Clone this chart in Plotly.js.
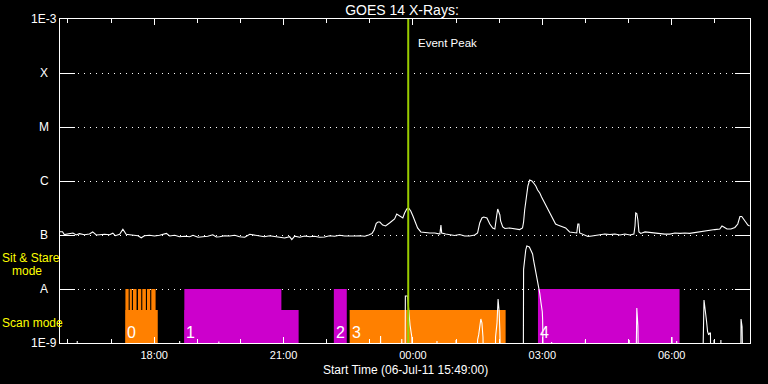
<!DOCTYPE html>
<html><head><meta charset="utf-8">
<script src="https://cdn.plot.ly/plotly-3.0.1.min.js"></script>
<style>html,body{margin:0;padding:0;background:#000;}#chart{width:768px;height:384px;}</style>
</head><body><div id="chart"></div>
<script>
// ---- Data (times are minutes after start 06-Jul-11 15:49:00) ----
const startLabel = 'Start Time (06-Jul-11 15:49:00)';
const titleText = 'GOES 14 X-Rays:';
const spanMinutes = 960;

// GOES long-channel flux (W/m^2)
const mainMin = [
 0, 3.5, 6, 9, 18, 22.5, 27, 34, 41, 45.5,
 50.5, 55, 62, 69, 73.5, 77, 83, 87.5, 90, 92,
 97, 101.5, 108.5, 113, 117.5, 124.5, 131.5, 138.5, 148, 152.5,
 159.5, 166.5, 173.5, 180.5, 185, 192, 199, 205.5, 212.5, 217.5,
 222, 229, 236, 243, 250, 257, 264, 271, 277.5, 284.5,
 291.5, 298.5, 305.5, 312.5, 319.5, 322.5, 326.5, 333.5, 340.5, 347.5,
 354, 361, 368, 375, 382, 389, 396, 403, 410, 417,
 424, 429.5, 434, 437, 440, 442.5, 445, 449, 453, 458.5,
 463, 465.5, 468.5, 472.5, 477, 479.5, 482.5, 485, 488, 491,
 493.5, 497.5, 502, 507.5, 514.5, 521.5, 528.5, 530, 531, 536.5,
 542, 549, 556, 563, 570, 577, 581, 584, 587, 589.5,
 594, 598, 602, 605, 607.5, 609, 612, 613, 616, 619,
 625.5, 632.5, 639.5, 643.5, 645, 646.5, 648, 651, 653.5, 656.5,
 659, 662, 664.5, 667.5, 670, 673, 676, 678.5, 681.5, 685.5,
 689.5, 692.5, 698, 703.5, 709, 715, 719, 720.5, 722, 723,
 729, 734.5, 740, 745.5, 751, 758, 765, 772, 779, 786,
 793, 798.5, 800, 801, 802.5, 804, 805.5, 808, 814, 821,
 828, 834.5, 841.5, 848.5, 855.5, 862.5, 869.5, 876, 883, 890,
 897, 904, 911, 918, 921, 923.5, 928, 933.5, 939, 943,
 946, 948.5, 951.5, 954, 957, 959.5
];
const mainFlux = [
 1.15e-7, 1.15e-7, 1.02e-7, 1.03e-7, 1.09e-7, 1.0e-7, 1.06e-7, 1.01e-7, 1.04e-7, 1.14e-7,
 1.0e-7, 1.01e-7, 1.03e-7, 1.01e-7, 1.08e-7, 9.7e-8, 1.03e-7, 1.28e-7, 1.12e-7, 1.03e-7,
 1.01e-7, 9.9e-8, 9.7e-8, 8.9e-8, 9.7e-8, 9.9e-8, 9.6e-8, 9.9e-8, 1.07e-7, 9.6e-8,
 9.9e-8, 9.3e-8, 9.5e-8, 9.3e-8, 9.9e-8, 9.1e-8, 9.3e-8, 9.5e-8, 1.01e-7, 9.2e-8,
 9.3e-8, 9.7e-8, 9.6e-8, 9.9e-8, 9.3e-8, 9.1e-8, 1.03e-7, 9.9e-8, 9.7e-8, 9.3e-8,
 9.7e-8, 9.3e-8, 9.1e-8, 8.8e-8, 9.3e-8, 8.2e-8, 9.5e-8, 9.1e-8, 9.6e-8, 9.3e-8,
 9.5e-8, 9.1e-8, 9.2e-8, 9.7e-8, 9.5e-8, 9.9e-8, 9.6e-8, 9.5e-8, 9.6e-8, 9.7e-8,
 9.5e-8, 1.0e-7, 1.06e-7, 1.24e-7, 1.65e-7, 1.74e-7, 1.74e-7, 1.53e-7, 1.47e-7, 1.67e-7,
 1.82e-7, 1.98e-7, 2.45e-7, 2.25e-7, 2.07e-7, 2.56e-7, 3.03e-7, 3.16e-7, 2.78e-7, 2.25e-7,
 1.82e-7, 1.35e-7, 1.14e-7, 1.11e-7, 1.09e-7, 1.09e-7, 1.04e-7, 1.53e-7, 1.09e-7, 1.04e-7,
 1.02e-7, 9.8e-8, 1.02e-7, 9.6e-8, 9.6e-8, 1.0e-7, 1.09e-7, 1.67e-7, 2.07e-7, 2.15e-7,
 2.07e-7, 1.6e-7, 1.35e-7, 1.29e-7, 2.25e-7, 3.03e-7, 2.35e-7, 1.82e-7, 1.41e-7, 1.32e-7,
 1.35e-7, 1.32e-7, 1.26e-7, 1.35e-7, 1.74e-7, 2.9e-7, 4.45e-7, 8.09e-7, 1.04e-6, 1.0e-6,
 9.18e-7, 8.09e-7, 6.81e-7, 5.99e-7, 5.05e-7, 4.26e-7, 3.59e-7, 3.03e-7, 2.56e-7, 1.98e-7,
 1.6e-7, 1.53e-7, 1.44e-7, 1.35e-7, 1.14e-7, 1.09e-7, 1.09e-7, 1.6e-7, 1.6e-7, 1.09e-7,
 1.0e-7, 9.4e-8, 9.6e-8, 9.8e-8, 1.02e-7, 1.04e-7, 1.02e-7, 1.04e-7, 1.0e-7, 1.04e-7,
 1.0e-7, 1.04e-7, 1.47e-7, 2.56e-7, 2.5e-7, 1.9e-7, 1.14e-7, 1.07e-7, 1.14e-7, 1.11e-7,
 1.09e-7, 1.07e-7, 1.04e-7, 1.04e-7, 1.09e-7, 1.07e-7, 1.09e-7, 1.07e-7, 1.11e-7, 1.14e-7,
 1.16e-7, 1.24e-7, 1.26e-7, 1.29e-7, 1.47e-7, 1.41e-7, 1.29e-7, 1.29e-7, 1.38e-7, 1.6e-7,
 2.2e-7, 2.2e-7, 1.98e-7, 1.74e-7, 1.53e-7, 1.47e-7
];

// lower white trace (mostly below 1E-9)
const lowMin = [
 0, 23, 24, 25, 165, 166.5, 168, 220, 221, 222,
 445, 446, 447, 474.5, 475.5, 476.5, 480, 480.5, 483.5, 487,
 489.5, 491, 523.5, 524.5, 525.5, 550, 551, 552, 580, 581,
 582.5, 584, 585.5, 587, 588.5, 590, 605.5, 606, 608, 609.5,
 611, 612, 613.5, 644.5, 645, 648, 649.5, 653, 655, 657.5,
 659, 662, 664.5, 666, 667.5, 669, 670, 671, 671.5, 672,
 673, 683, 684, 685, 730, 731, 732, 791, 792, 793,
 801, 801.5, 802.5, 804, 805.5, 850.5, 851.5, 852.5, 857, 858,
 859, 893.5, 896, 897, 899, 899.5, 901, 902.5, 904, 905,
 905.5, 909, 910, 911, 918.5, 919.5, 920.5, 947, 947.5, 949,
 950.5, 960
];
const lowFlux = [
 1e-10, 1e-10, 1.09e-9, 1e-10, 1e-10, 1.09e-9, 1e-10, 1e-10, 1.06e-9, 1e-10,
 1e-10, 1.35e-9, 1e-10, 1e-10, 1.19e-9, 1e-10, 1e-10, 7.4e-9, 7.4e-9, 2.15e-9,
 1.29e-9, 1e-10, 1e-10, 1.09e-9, 1e-10, 1e-10, 1.14e-9, 1e-10, 1e-10, 1.14e-9,
 1.41e-9, 2.15e-9, 2.78e-9, 2.35e-9, 1.29e-9, 1e-10, 1e-10, 1.29e-9, 2.35e-9, 6.5e-9,
 3.8e-9, 1.62e-9, 1e-10, 1e-10, 2.31e-8, 5.28e-8, 6.26e-8, 6.0e-8, 5.28e-8, 4.45e-8,
 3.34e-8, 2.09e-8, 1.47e-8, 1.22e-8, 8.33e-9, 5.83e-9, 4.7e-9, 3.8e-9, 2.67e-9, 1.74e-9,
 1e-10, 1e-10, 1.04e-9, 1e-10, 1e-10, 1.14e-9, 1e-10, 1e-10, 1.14e-9, 1e-10,
 1e-10, 2.56e-9, 4.45e-9, 2.09e-9, 1e-10, 1e-10, 1.29e-9, 1e-10, 1e-10, 1.09e-9,
 1e-10, 1e-10, 6.26e-9, 4.84e-9, 3.3e-9, 2.56e-9, 1.62e-9, 1.41e-9, 1.53e-9, 1.53e-9,
 1e-10, 1e-10, 1.14e-9, 1e-10, 1e-10, 1.14e-9, 1e-10, 1e-10, 2.78e-9, 2.0e-9,
 1e-10, 1e-10
];

// observing-mode segments
const segBlock = [0, 0, 0, 0, 0, 0, 0, 0, 1, 1, 2, 3, 4];
const segMode  = ['scan','sit','sit','sit','sit','sit','sit','sit','sit','scan','sit','scan','sit'];
const segStart = [91, 91, 97, 101.5, 108.5, 114.5, 121, 127, 173, 173, 381, 403, 665];
const segEnd   = [136, 95.5, 100, 106.5, 113, 119.5, 125.5, 133, 308, 332, 399, 620, 862];
const blockLabels = ['0', '1', '2', '3', '4'];
const blockStart  = [91, 173, 381, 403, 665];
const blockColors = ['#ff8000', '#cc00cc', '#cc00cc', '#ff8000', '#cc00cc'];
const modeLevel = {sit: 1e-8, scan: 4.1e-9};

const eventPeakMin = 484.5;

// GOES class levels
const levelVals = [1e-9, 1e-8, 1e-7, 1e-6, 1e-5, 1e-4, 1e-3];
const levelText = ['1E-9', 'A', 'B', 'C', 'M', 'X', '1E-3'];
const modeLabelText = ['Sit & Stare', 'mode', 'Scan mode'];

// ---- Build ----
const START = Date.UTC(2011, 6, 6, 15, 49, 0);
const toT = m => START + m * 60000;
const yMin = levelVals[0], yMax = levelVals[levelVals.length - 1];
const FONT = '"Liberation Sans", Arial, sans-serif';

const traces = [];
segStart.forEach((s, i) => {
  const e = segEnd[i], top = modeLevel[segMode[i]];
  traces.push({
    type: 'scatter', mode: 'lines', fill: 'toself',
    x: [toT(s), toT(s), toT(e), toT(e), toT(s)],
    y: [yMin, top, top, yMin, yMin],
    fillcolor: blockColors[segBlock[i]],
    line: {width: 0, color: blockColors[segBlock[i]]},
    hoverinfo: 'skip'
  });
});
traces.push({
  type: 'scatter', mode: 'lines',
  x: lowMin.map(toT), y: lowFlux,
  line: {color: '#ffffff', width: 1.1}, hoverinfo: 'skip'
});
traces.push({
  type: 'scatter', mode: 'lines',
  x: mainMin.map(toT), y: mainFlux,
  line: {color: '#ffffff', width: 1.1}, hoverinfo: 'skip'
});
traces.push({
  type: 'scatter', mode: 'lines',
  x: [toT(eventPeakMin), toT(eventPeakMin)], y: [yMin, yMax],
  line: {color: '#99cc00', width: 2}, hoverinfo: 'skip'
});

const annotations = [];
levelVals.forEach((v, i) => {
  annotations.push({
    xref: 'paper', x: 0, xshift: -16, xanchor: 'center',
    yref: 'y', y: Math.log10(v), yanchor: 'middle',
    text: levelText[i], showarrow: false,
    font: {family: FONT, size: 12, color: '#ffffff'}
  });
});
const modeLabelPos = [[-60, 0.262], [-50, 0.222], [-60, 0.0617]];
modeLabelText.forEach((t, i) => {
  annotations.push({
    xref: 'paper', x: 0, xshift: modeLabelPos[i][0], xanchor: 'left',
    yref: 'paper', y: modeLabelPos[i][1], yanchor: 'middle',
    text: t, showarrow: false,
    font: {family: FONT, size: 12, color: '#ffff00'}
  });
});
blockLabels.forEach((t, i) => {
  annotations.push({
    xref: 'x', x: toT(blockStart[i]), xshift: 0, xanchor: 'left',
    yref: 'paper', y: 0.031, yanchor: 'middle',
    text: t, showarrow: false,
    font: {family: FONT, size: 16, color: '#ffffff'}
  });
});
annotations.push({
  xref: 'x', x: toT(eventPeakMin), xshift: 8, xanchor: 'left',
  yref: 'paper', y: 0.926, yanchor: 'middle',
  text: 'Event Peak', showarrow: false,
  font: {family: FONT, size: 11.5, color: '#ffffff'}
});
annotations.push({
  xref: 'paper', x: 0.5, xanchor: 'center',
  yref: 'paper', y: -0.0833, yanchor: 'middle',
  text: startLabel, showarrow: false,
  font: {family: FONT, size: 12, color: '#ffffff'}
});

const layout = {
  width: 768, height: 384,
  margin: {l: 60, r: 18, t: 19, b: 41, pad: 0},
  paper_bgcolor: '#000000', plot_bgcolor: '#000000',
  showlegend: false,
  font: {family: FONT, color: '#ffffff', size: 11},
  title: {text: titleText, font: {family: FONT, size: 14, color: '#ffffff'},
          x: 402 / 768, xanchor: 'center', y: 1 - 10 / 384, yanchor: 'middle'},
  xaxis: {
    type: 'date', range: [toT(0), toT(spanMinutes)],
    showline: true, linecolor: '#ffffff', linewidth: 1, mirror: 'ticks',
    ticks: 'inside', ticklen: 6, tickwidth: 1, tickcolor: '#ffffff',
    tick0: '2011-07-06 18:00', dtick: 3 * 3600000, tickformat: '%H:%M',
    tickfont: {family: FONT, size: 11, color: '#ffffff'},
    ticklabelstandoff: 2,
    minor: {ticks: 'inside', ticklen: 4, tickwidth: 1, tickcolor: '#ffffff',
            dtick: 3600000, tick0: '2011-07-06 16:00', showgrid: false},
    showgrid: false, zeroline: false, fixedrange: true
  },
  yaxis: {
    type: 'log', range: [Math.log10(yMin), Math.log10(yMax)],
    tickvals: levelVals, showticklabels: false,
    ticks: 'inside', ticklen: 15, tickwidth: 1, tickcolor: '#ffffff',
    showline: true, linecolor: '#ffffff', linewidth: 1, mirror: 'ticks',
    showgrid: true, gridcolor: '#ffffff', gridwidth: 1, griddash: '1px,5px',
    zeroline: false, fixedrange: true
  },
  annotations: annotations
};

Plotly.newPlot('chart', traces, layout, {displayModeBar: false, staticPlot: true});
</script>
</body></html>
